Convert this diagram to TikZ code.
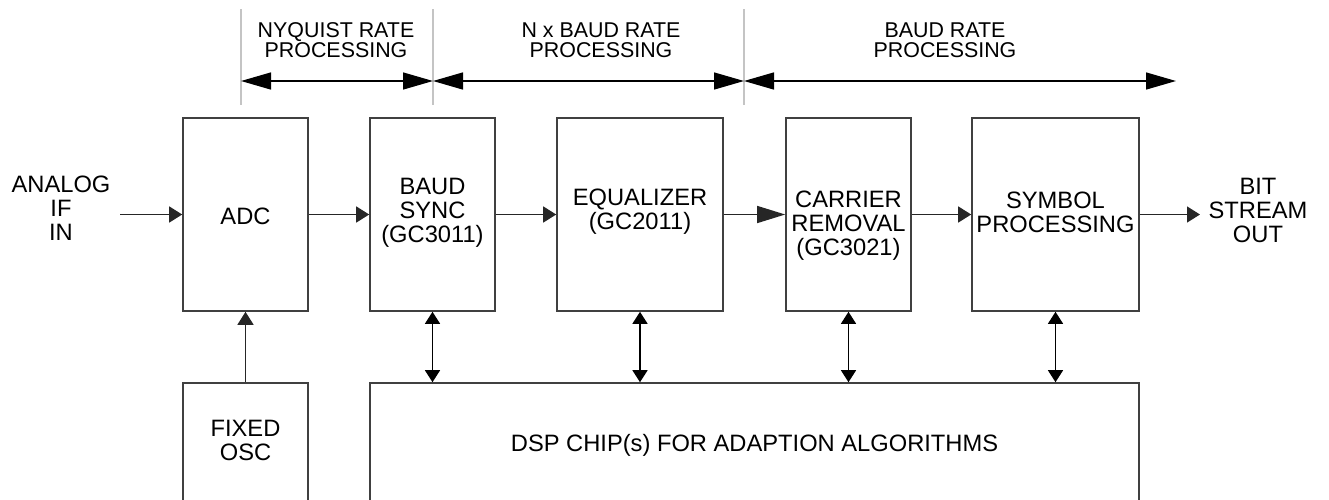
\documentclass[tikz,border=0pt]{standalone}
\usepackage{fontspec}
\setmainfont{Liberation Sans}
\usetikzlibrary{arrows.meta}
\definecolor{boxline}{HTML}{404040}
\definecolor{divline}{HTML}{C4C4C4}
\tikzset{
  blk/.style={draw=boxline, line width=0.8pt, inner sep=0pt, minimum width=#1*0.5pt},
  lbl/.style={align=center, inner sep=0pt, font=\fontsize{11.85}{12}\selectfont},
  hdr/.style={align=center, inner sep=0pt, font=\fontsize{10.7}{10}\selectfont},
  divider/.style={draw=divline, line width=0.8pt},
  flow/.style={draw=black!85, line width=0.7pt, -{Triangle[length=6.5pt,width=8pt]}},
  bigflow/.style={draw=black!85, line width=0.7pt, -{Triangle[length=14pt,width=8.5pt]}},
  both/.style={draw=black, line width=0.7pt, {Triangle[length=6pt,width=7.5pt]}-{Triangle[length=6pt,width=7.5pt]}},
  span/.style={draw=black, line width=0.7pt, {Triangle[length=15pt,width=8.5pt]}-{Triangle[length=15pt,width=8.5pt]}}
}
\begin{document}
\begin{tikzpicture}[x=0.5pt,y=-0.5pt]
\useasboundingbox (0,0) rectangle (1329,499);
\clip (0,0) rectangle (1329,499);
% header dividers
\coordinate (d1t) at (241,9);  \coordinate (d1b) at (241,105);
\coordinate (d2t) at (433,9);  \coordinate (d2b) at (433,105);
\coordinate (d3t) at (744,9);  \coordinate (d3b) at (744,105);
\draw[divider] (d1t) -- (d1b);
\draw[divider] (d2t) -- (d2b);
\draw[divider] (d3t) -- (d3b);
\coordinate (s1) at (241,81);
\coordinate (s2) at (433,81);
\coordinate (s3) at (744,81);
\coordinate (s4) at (1176,81);
\draw[span] (s1) -- (s2);
\draw[span] (s2) -- (s3);
\draw[span] (s3) -- (s4);
\node[hdr] (h1) at (336,40) {NYQUIST RATE\\PROCESSING};
\node[hdr] (h2) at (601,40) {N x BAUD RATE\\PROCESSING};
\node[hdr] (h3) at (945,40) {BAUD RATE\\PROCESSING};
% top row blocks
\node[blk=125, minimum height=96.5pt] (adc) at (245.5,214.5) {};
\node[blk=125, minimum height=96.5pt] (baud) at (432.5,214.5) {};
\node[blk=166, minimum height=96.5pt] (eq) at (640,214.5) {};
\node[blk=125, minimum height=96.5pt] (car) at (848.5,214.5) {};
\node[blk=167, minimum height=96.5pt] (sym) at (1055.5,214.5) {};
\node[lbl] (adct) at (245.5,216) {ADC};
\node[lbl] (baudt) at (432.5,213) {BAUD\\SYNC\\(GC3011)};
\node[lbl] (eqt) at (640,212) {EQUALIZER\\(GC2011)};
\node[lbl] (cart) at (848.5,226) {CARRIER\\REMOVAL\\(GC3021)};
\node[lbl] (symt) at (1055.5,212) {SYMBOL\\PROCESSING};
% bottom row blocks
\node[blk=125, minimum height=90pt] (osc) at (245.5,473) {};
\node[blk=769, minimum height=90pt] (dsp) at (754.5,473) {};
\node[lbl] (osct) at (245.5,440) {FIXED\\OSC};
\node[lbl] (dspt) at (754.5,445) {DSP CHIP(s) FOR ADAPTION ALGORITHMS};
% side texts
\node[lbl] (inlbl) at (61,208) {ANALOG\\IF\\IN};
\node[lbl] (outlbl) at (1258,210) {BIT\\STREAM\\OUT};
\coordinate (in) at (120,214.5);
\coordinate (out) at (1200,214.5);
% flow
\draw[flow] (in) -- (adc);
\draw[flow] (adc) -- (baud);
\draw[flow] (baud) -- (eq);
\draw[bigflow] (eq) -- (car);
\draw[flow] (car) -- (sym);
\draw[flow] (sym) -- (out);
\draw[flow] (osc.north) -- (adc.south);
\draw[both] (baud.south) -- (baud.south |- dsp.north);
\draw[both] (eq.south) -- (eq.south |- dsp.north);
\draw[both] (car.south) -- (car.south |- dsp.north);
\draw[both] (sym.south) -- (sym.south |- dsp.north);
\end{tikzpicture}
\end{document}
